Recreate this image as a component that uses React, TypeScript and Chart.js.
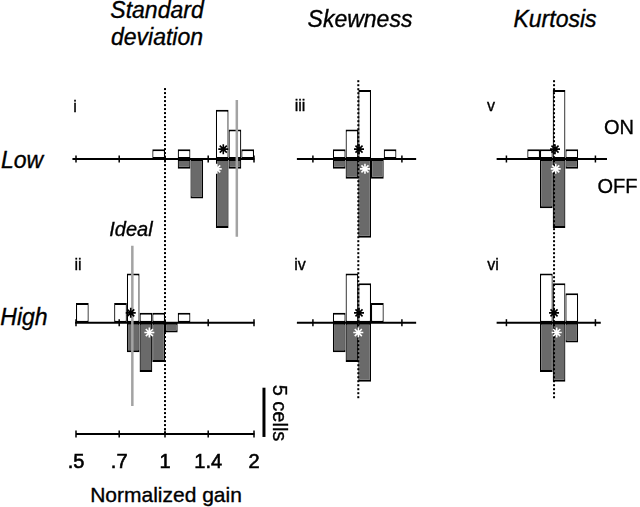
import React, { useEffect, useRef } from 'react';
import { Chart, registerables } from 'chart.js';

Chart.register(...registerables);

const FONT = '"Liberation Sans", Arial, Helvetica, sans-serif';

// ---------------- DATA ----------------
// Histogram bin centres (log2 of normalized gain for SD; shape units for skewness / kurtosis)
const sdBinCenters = [-0.9286, -0.7857, -0.6429, -0.5, -0.3571, -0.2143, -0.0714, 0.0714, 0.2143, 0.3571, 0.5, 0.6429, 0.7857, 0.9286];
const shapeBinCenters = [-0.5, -0.3571, -0.2143, -0.0714, 0.0714, 0.2143, 0.3571, 0.5];

// Axis ticks
const sdTickValues = [0.5, 0.7, 1, 1.4, 2];
const sdTickLabels = ['.5', '.7', '1', '1.4', '2'];
const skewTickValues = [-0.51, 0.49];
const kurtTickValues = [-0.52, 0.48];

// Cell counts (ON = upward, OFF = downward)
const sdLowOn = [0, 0, 0, 0, 0, 0, 1, 0, 1, 0, 0, 5, 3, 1];
const sdLowOff = [0, 0, 0, 0, 0, 0, 0, 0, 1, 4, 0, 7, 1, 0];
const sdHighOn = [2, 0, 0, 2, 5, 1, 1, 0, 1, 0, 0, 0, 0, 0];
const sdHighOff = [0, 0, 0, 0, 3, 5, 4, 1, 0, 0, 0, 0, 0, 0];

const skLowOn = [0, 0, 1, 3, 7, 0, 1, 0];
const skLowOff = [0, 0, 1, 2, 8, 2, 0, 0];
const skHighOn = [0, 0, 1, 5, 4, 2, 0, 0];
const skHighOff = [0, 0, 3, 4, 6, 0, 0, 0];

const kuLowOn = [0, 0, 1, 1, 7, 1, 0, 0];
const kuLowOff = [0, 0, 0, 5, 7, 1, 0, 0];
const kuHighOn = [0, 0, 0, 5, 4, 3, 0, 0];
const kuHighOff = [0, 0, 0, 5, 6, 2, 0, 0];

// Means [ON, OFF] (asterisks)
const sdLowMeans = [0.655, 0.581];
const sdHighMeans = [-0.385, -0.176];
const skLowMeans = [0.008, 0.075];
const skHighMeans = [0.008, 0.0];
const kuLowMeans = [0.026, 0.034];
const kuHighMeans = [0.015, 0.045];
const starOffsets = [1, -1]; // cells above / below baseline for ON / OFF asterisks

// Ideal gain (log2) for low / high contrast
const sdIdeal = [0.807, -0.367];

// ---------------- LAYOUT ----------------
const PX_PER_UNIT = 89;
const PX_PER_CELL = 9.85;
const LOW_AXIS_PX = 159;
const HIGH_AXIS_PX = 322.7;
const BOTTOM_AXIS_PX = 434;
const CANVAS_TOP = 60;
const CANVAS_H = 420;
const LOW_BASE = 0;
const HIGH_BASE = -(HIGH_AXIS_PX - LOW_AXIS_PX) / PX_PER_CELL;
const BOTTOM_BASE = -(BOTTOM_AXIS_PX - LOW_AXIS_PX) / PX_PER_CELL;
const Y_MAX = (LOW_AXIS_PX - CANVAS_TOP) / PX_PER_CELL;
const Y_MIN = Y_MAX - CANVAS_H / PX_PER_CELL;

const OFF_GRAY = '#6a6a6a';
const IDEAL_GRAY = '#a3a3a3';

type Col = {
  key: string;
  left: number;
  width: number;
  zeroPx: number;
  bins: number[];
  lowOn: number[];
  lowOff: number[];
  highOn: number[];
  highOff: number[];
  lowMeans: number[];
  highMeans: number[];
  ticks: number[];
  axisLow: number[];
  axisHigh: number[];
  dotted: { x: number; y: number[] };
  sd?: boolean;
};

const columns: Col[] = [
  {
    key: 'sd', left: 50, width: 250, zeroPx: 165, bins: sdBinCenters,
    lowOn: sdLowOn, lowOff: sdLowOff, highOn: sdHighOn, highOff: sdHighOff,
    lowMeans: sdLowMeans, highMeans: sdHighMeans,
    ticks: sdTickValues.map((v) => Math.log2(v)),
    axisLow: [-1.04, 1.005], axisHigh: [-1.01, 1.005],
    dotted: { x: 0, y: [7.2, BOTTOM_BASE] }, sd: true,
  },
  {
    key: 'sk', left: 290, width: 140, zeroPx: 358.3, bins: shapeBinCenters,
    lowOn: skLowOn, lowOff: skLowOff, highOn: skHighOn, highOff: skHighOff,
    lowMeans: skLowMeans, highMeans: skHighMeans,
    ticks: skewTickValues, axisLow: [-0.69, 0.65], axisHigh: [-0.69, 0.65],
    dotted: { x: 0, y: [8.0, -24.4] },
  },
  {
    key: 'ku', left: 485, width: 130, zeroPx: 552.7, bins: shapeBinCenters,
    lowOn: kuLowOn, lowOff: kuLowOff, highOn: kuHighOn, highOff: kuHighOff,
    lowMeans: kuLowMeans, highMeans: kuHighMeans,
    ticks: kurtTickValues, axisLow: [-0.63, 0.61], axisHigh: [-0.63, 0.54],
    dotted: { x: 0.015, y: [8.0, -24.3] },
  },
];

const tickLabelPlugin = {
  id: 'sdTickLabels',
  afterDatasetsDraw(chart: any, _args: any, opts: any) {
    if (!opts || !opts.show) return;
    const { ctx } = chart;
    const x = chart.scales.x;
    const y = chart.scales.y;
    ctx.save();
    ctx.font = `20px ${FONT}`;
    ctx.fillStyle = '#000';
    ctx.strokeStyle = '#000';
    ctx.lineWidth = 0.6;
    ctx.textAlign = 'center';
    ctx.textBaseline = 'middle';
    const yPix = y.getPixelForValue(BOTTOM_BASE) + 28;
    sdTickValues.forEach((v, i) => {
      const px = x.getPixelForValue(Math.log2(v));
      ctx.fillText(sdTickLabels[i], px, yPix);
      ctx.strokeText(sdTickLabels[i], px, yPix);
    });
    ctx.restore();
  },
};

function makeConfig(col: Col): any {
  const xmin = (col.left - col.zeroPx) / PX_PER_UNIT;
  const xmax = (col.left + col.width - col.zeroPx) / PX_PER_UNIT;

  const bars = (counts: number[], base: number, up: boolean, color: string) => ({
    type: 'bar',
    data: col.bins.map((c, i) => ({ x: c, y: up ? [base, base + counts[i]] : [base - counts[i], base] })),
    backgroundColor: color,
    borderColor: '#000',
    borderWidth: { top: 2, bottom: 2, left: 1.2, right: 1.2 },
    borderSkipped: false,
    grouped: false,
    barPercentage: 1,
    categoryPercentage: 1,
    inflateAmount: 0,
    order: 10,
  });

  const line = (pts: any[], color: string, width: number, dash: number[], order: number) => ({
    type: 'line',
    data: pts,
    borderColor: color,
    borderWidth: width,
    borderDash: dash,
    borderCapStyle: 'butt',
    pointRadius: 0,
    fill: false,
    tension: 0,
    order,
  });

  const tickPts: any[] = [];
  col.ticks.forEach((t) => {
    tickPts.push({ x: t, y: LOW_BASE });
    tickPts.push({ x: t, y: HIGH_BASE });
    if (col.sd) tickPts.push({ x: t, y: BOTTOM_BASE });
  });

  const datasets: any[] = [
    bars(col.lowOn, LOW_BASE, true, '#ffffff'),
    bars(col.lowOff, LOW_BASE, false, OFF_GRAY),
    bars(col.highOn, HIGH_BASE, true, '#ffffff'),
    bars(col.highOff, HIGH_BASE, false, OFF_GRAY),
    line([{ x: col.axisLow[0], y: LOW_BASE }, { x: col.axisLow[1], y: LOW_BASE }], '#000', 2, [], 6),
    line([{ x: col.axisHigh[0], y: HIGH_BASE }, { x: col.axisHigh[1], y: HIGH_BASE }], '#000', 2, [], 6),
    {
      type: 'scatter',
      data: tickPts,
      pointStyle: 'line',
      pointRotation: 90,
      pointRadius: 3.5,
      pointBorderWidth: 1.5,
      pointBorderColor: '#000',
      order: 5,
    },
    line([{ x: col.dotted.x, y: col.dotted.y[0] }, { x: col.dotted.x, y: col.dotted.y[1] }], '#000', 2, [2, 2], 3),
    {
      type: 'scatter',
      data: [
        { x: col.lowMeans[0], y: LOW_BASE + starOffsets[0] },
        { x: col.highMeans[0], y: HIGH_BASE + starOffsets[0] },
      ],
      pointStyle: 'star',
      pointRadius: 5,
      pointBorderWidth: 1.6,
      pointBorderColor: '#000',
      pointBackgroundColor: 'rgba(0,0,0,0)',
      order: 0,
    },
    {
      type: 'scatter',
      data: [
        { x: col.lowMeans[1], y: LOW_BASE + starOffsets[1] },
        { x: col.highMeans[1], y: HIGH_BASE + starOffsets[1] },
      ],
      pointStyle: 'star',
      pointRadius: 5,
      pointBorderWidth: 1.6,
      pointBorderColor: '#fff',
      pointBackgroundColor: 'rgba(0,0,0,0)',
      order: 0,
    },
  ];

  if (col.sd) {
    datasets.push(line([{ x: sdIdeal[0], y: LOW_BASE + 6.0 }, { x: sdIdeal[0], y: LOW_BASE - 7.9 }], IDEAL_GRAY, 2.5, [], 2));
    datasets.push(line([{ x: sdIdeal[1], y: HIGH_BASE + 7.8 }, { x: sdIdeal[1], y: HIGH_BASE - 8.45 }], IDEAL_GRAY, 2.5, [], 2));
    datasets.push(line([{ x: -1.0, y: BOTTOM_BASE }, { x: 1.005, y: BOTTOM_BASE }], '#000', 2, [], 6));
    // 5-cell scale bar
    datasets.push(line([{ x: 1.112, y: BOTTOM_BASE - 0.3 }, { x: 1.112, y: BOTTOM_BASE + 4.7 }], '#000', 3, [], 4));
  }

  return {
    type: 'bar',
    data: { datasets },
    options: {
      animation: false,
      responsive: false,
      maintainAspectRatio: false,
      devicePixelRatio: 1,
      events: [],
      layout: { padding: 0, autoPadding: false },
      plugins: {
        legend: { display: false },
        tooltip: { enabled: false },
        sdTickLabels: { show: !!col.sd },
      },
      scales: {
        x: { type: 'linear', min: xmin, max: xmax, display: false, offset: false },
        y: { type: 'linear', min: Y_MIN, max: Y_MAX, display: false },
      },
    },
    plugins: [tickLabelPlugin],
  };
}

function ColumnChart({ col }: { col: Col }) {
  const ref = useRef<HTMLCanvasElement>(null);
  useEffect(() => {
    const chart = new Chart(ref.current as HTMLCanvasElement, makeConfig(col));
    return () => chart.destroy();
  }, [col]);
  return (
    <canvas
      ref={ref}
      width={col.width}
      height={CANVAS_H}
      style={{ position: 'absolute', left: col.left, top: CANVAS_TOP, width: col.width, height: CANVAS_H }}
    />
  );
}

type Txt = { t: string; x: number; y: number; s: number; i?: boolean; rot?: number };
const texts: Txt[] = [
  { t: 'Standard', x: 157, y: 10, s: 23, i: true },
  { t: 'deviation', x: 157, y: 37, s: 23, i: true },
  { t: 'Skewness', x: 360, y: 19, s: 23, i: true },
  { t: 'Kurtosis', x: 555, y: 19, s: 23, i: true },
  { t: 'Low', x: 22, y: 160, s: 23, i: true },
  { t: 'High', x: 24, y: 317, s: 23, i: true },
  { t: 'i', x: 75, y: 107, s: 16 },
  { t: 'ii', x: 78, y: 265, s: 16 },
  { t: 'iii', x: 300, y: 106, s: 16 },
  { t: 'iv', x: 300, y: 265, s: 16 },
  { t: 'v', x: 491, y: 106, s: 16 },
  { t: 'vi', x: 493, y: 265, s: 16 },
  { t: 'ON', x: 619, y: 127, s: 20 },
  { t: 'OFF', x: 617.5, y: 186, s: 20 },
  { t: 'Ideal', x: 131, y: 229, s: 20, i: true },
  { t: 'Normalized gain', x: 166, y: 494, s: 21 },
  { t: '5 cells', x: 280, y: 413, s: 20, rot: 90 },
];

export default function App() {
  return (
    <div style={{ position: 'absolute', left: 0, top: 0, width: 640, height: 507, background: '#fff', overflow: 'hidden' }}>
      {columns.map((c) => (
        <ColumnChart key={c.key} col={c} />
      ))}
      {texts.map((tx, idx) => (
        <div
          key={idx}
          style={{
            position: 'absolute',
            left: tx.x,
            top: tx.y,
            transform: `translate(-50%, -50%)${tx.rot ? ` rotate(${tx.rot}deg)` : ''}`,
            fontFamily: FONT,
            fontSize: tx.s,
            fontStyle: tx.i ? 'italic' : 'normal',
            lineHeight: 1,
            whiteSpace: 'nowrap',
            color: '#000',
            WebkitTextStroke: '0.35px #000',
          }}
        >
          {tx.t}
        </div>
      ))}
    </div>
  );
}
